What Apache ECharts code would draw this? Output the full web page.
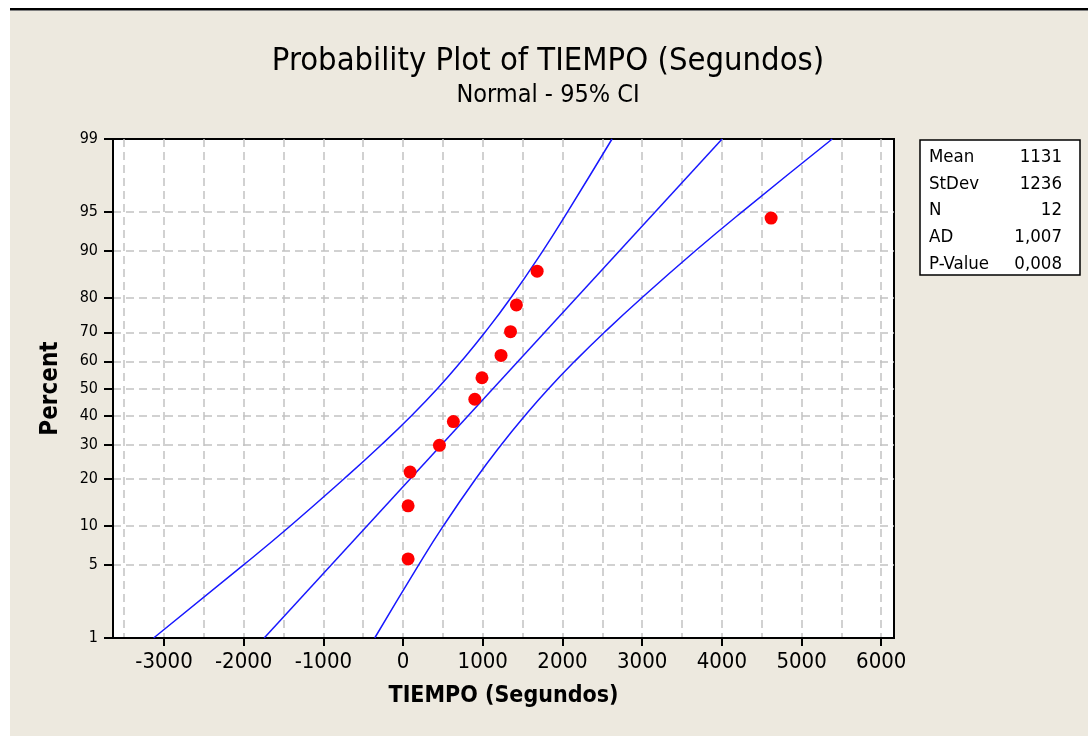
<!DOCTYPE html>
<html>
<head>
<meta charset="utf-8">
<script src="https://cdn.jsdelivr.net/npm/echarts@6/dist/echarts.min.js"></script>
<style>
html,body{margin:0;padding:0;background:#fff;}
#chart{width:1088px;height:736px;}
</style>
</head>
<body>
<div id="chart"></div>
<script>
// ---- data ----
const pointTimes = [63, 63, 88, 456, 631, 900, 990, 1229, 1348, 1422, 1682, 4618];
const pointPercents = [5.6, 13.7, 21.8, 29.8, 37.9, 46.0, 54.0, 62.1, 70.2, 78.2, 86.3, 94.4];

const bandPercents = [1, 5, 10, 20, 30, 40, 50, 60, 70, 80, 90, 95, 99];
const lowerBand = [-3130, -2002, -1416, -740, -272, 105, 432, 730, 1028, 1348, 1752, 2062, 2622];
const upperBand = [-356, 196, 505, 912, 1232, 1529, 1828, 2154, 2527, 2990, 3665, 4250, 5385];

const fitPercents = [1, 99];
const fitTimes = [-1743, 4003];

const yTickPercents = [1, 5, 10, 20, 30, 40, 50, 60, 70, 80, 90, 95, 99];
const yGridPercents = [5, 10, 20, 30, 40, 50, 60, 70, 80, 90, 95];
const xTickValues = [-3000, -2000, -1000, 0, 1000, 2000, 3000, 4000, 5000, 6000];
const xGridValues = [-3500, -3000, -2500, -2000, -1500, -1000, -500, 0, 500, 1000, 1500, 2000, 2500, 3000, 3500, 4000, 4500, 5000, 5500, 6000];

const titleText = 'Probability Plot of TIEMPO (Segundos)';
const subtitleText = 'Normal - 95% CI';
const statLabels = ['Mean', 'StDev', 'N', 'AD', 'P-Value'];
const statValues = ['1131', '1236', '12', '1,007', '0,008'];

// ---- normal probability scale transform (percent -> z) ----
function probit(p) {
  const a=[-3.969683028665376e+01,2.209460984245205e+02,-2.759285104469687e+02,1.383577518672690e+02,-3.066479806614716e+01,2.506628277459239e+00];
  const b=[-5.447609879822406e+01,1.615858368580409e+02,-1.556989798598866e+02,6.680131188771972e+01,-1.328068155288572e+01];
  const c=[-7.784894002430293e-03,-3.223964580411365e-01,-2.400758277161838e+00,-2.549671010229127e+00,4.374664141464968e+00,2.938163982698783e+00];
  const d=[7.784695709041462e-03,3.224671290700398e-01,2.445134137142996e+00,3.754408661907416e+00];
  const pl=0.02425, ph=1-pl; let q, r;
  if (p < pl) { q=Math.sqrt(-2*Math.log(p)); return (((((c[0]*q+c[1])*q+c[2])*q+c[3])*q+c[4])*q+c[5])/((((d[0]*q+d[1])*q+d[2])*q+d[3])*q+1); }
  if (p <= ph) { q=p-0.5; r=q*q; return (((((a[0]*r+a[1])*r+a[2])*r+a[3])*r+a[4])*r+a[5])*q/(((((b[0]*r+b[1])*r+b[2])*r+b[3])*r+b[4])*r+1); }
  q=Math.sqrt(-2*Math.log(1-p)); return -(((((c[0]*q+c[1])*q+c[2])*q+c[3])*q+c[4])*q+c[5])/((((d[0]*q+d[1])*q+d[2])*q+d[3])*q+1);
}
const z = pc => probit(pc / 100);
const yTickZ = yTickPercents.map(z);
const yGridZ = yGridPercents.map(z);
const yMin = z(1), yMax = z(99);

const FONT = "'DejaVu Sans Condensed','DejaVu Sans',sans-serif";
const gridStyle = { color: '#C2C2C2', width: 1.5, type: [8, 5] };
const BLUE = '#1818FF';

const chart = echarts.init(document.getElementById('chart'), null, { renderer: 'canvas' });

const statTexts = [];
statLabels.forEach((s, i) => {
  statTexts.push({ type: 'text', x: 929, y: 157 + i * 26.7, style: { text: s, font: "18.5px " + FONT, fill: '#000', textAlign: 'left', textVerticalAlign: 'middle' } });
  statTexts.push({ type: 'text', x: 1062, y: 157 + i * 26.7, style: { text: statValues[i], font: "18.5px " + FONT, fill: '#000', textAlign: 'right', textVerticalAlign: 'middle' } });
});

chart.setOption({
  backgroundColor: '#EDE9DF',
  animation: false,
  grid: { left: 113, top: 139, right: 194, bottom: 98, show: true, backgroundColor: '#ffffff', borderColor: '#000', borderWidth: 2, containLabel: false },
  xAxis: [
    {
      type: 'value', min: -3640, max: 6160, position: 'bottom',
      axisLine: { show: true, onZero: false, lineStyle: { color: '#000', width: 2 } },
      axisTick: { show: true, inside: false, length: 8, customValues: xTickValues, lineStyle: { color: '#000', width: 2 } },
      axisLabel: { show: true, customValues: xTickValues, margin: 13, color: '#000', fontSize: 22, fontFamily: FONT, formatter: v => String(v) },
      splitLine: { show: false },
      name: 'TIEMPO (Segundos)', nameLocation: 'middle', nameGap: 47,
      nameTextStyle: { color: '#000', fontSize: 23, fontWeight: 'bold', fontFamily: FONT }
    },
    {
      type: 'value', min: -3640, max: 6160, position: 'bottom',
      axisLine: { show: false, onZero: false },
      axisTick: { show: false, customValues: xGridValues },
      axisLabel: { show: false },
      splitLine: { show: true, lineStyle: gridStyle }
    }
  ],
  yAxis: [
    {
      type: 'value', min: yMin, max: yMax,
      axisLine: { show: true, onZero: false, lineStyle: { color: '#000', width: 2 } },
      axisTick: { show: true, inside: false, length: 9, customValues: yTickZ, lineStyle: { color: '#000', width: 2 } },
      axisLabel: {
        show: true, customValues: yTickZ, margin: 15, color: '#000', fontSize: 16, fontFamily: FONT,
        formatter: v => { let best = 0; yTickZ.forEach((t, i) => { if (Math.abs(t - v) < Math.abs(yTickZ[best] - v)) best = i; }); return String(yTickPercents[best]); }
      },
      splitLine: { show: false },
      name: 'Percent', nameLocation: 'middle', nameGap: 50, nameRotate: 90,
      nameTextStyle: { color: '#000', fontSize: 24, fontWeight: 'bold', fontFamily: FONT }
    },
    {
      type: 'value', min: yMin, max: yMax, position: 'left',
      axisLine: { show: false, onZero: false },
      axisTick: { show: false, customValues: yGridZ },
      axisLabel: { show: false },
      splitLine: { show: true, lineStyle: gridStyle }
    }
  ],
  graphic: [
    { type: 'rect', shape: { x: 0, y: 0, width: 1088, height: 8 }, style: { fill: '#fff' }, silent: true },
    { type: 'rect', shape: { x: 0, y: 0, width: 10, height: 736 }, style: { fill: '#fff' }, silent: true },
    { type: 'rect', shape: { x: 10, y: 8, width: 1078, height: 2 }, style: { fill: '#000' }, silent: true },
    { type: 'rect', shape: { x: 10, y: 10, width: 1078, height: 1 }, style: { fill: '#808080' }, silent: true },
    { type: 'text', x: 548, y: 62, style: { text: titleText, font: "32.5px " + FONT, fill: '#000', textAlign: 'center', textVerticalAlign: 'middle' }, silent: true },
    { type: 'text', x: 548, y: 95, style: { text: subtitleText, font: "25px " + FONT, fill: '#000', textAlign: 'center', textVerticalAlign: 'middle' }, silent: true },
    { type: 'rect', shape: { x: 920, y: 140, width: 160, height: 135 }, style: { fill: '#fff', stroke: '#000', lineWidth: 1.5 }, silent: true }
  ].concat(statTexts),
  series: [
    {
      type: 'line', xAxisIndex: 0, yAxisIndex: 0, name: 'lower', showSymbol: false, symbol: 'none', smooth: 0.5,
      lineStyle: { color: BLUE, width: 1.5 },
      data: lowerBand.map((v, i) => [v, z(bandPercents[i])]), z: 3
    },
    {
      type: 'line', xAxisIndex: 0, yAxisIndex: 0, name: 'upper', showSymbol: false, symbol: 'none', smooth: 0.5,
      lineStyle: { color: BLUE, width: 1.5 },
      data: upperBand.map((v, i) => [v, z(bandPercents[i])]), z: 3
    },
    {
      type: 'line', xAxisIndex: 0, yAxisIndex: 0, name: 'fit', showSymbol: false, symbol: 'none',
      lineStyle: { color: BLUE, width: 1.5 },
      data: fitTimes.map((v, i) => [v, z(fitPercents[i])]), z: 3
    },
    {
      type: 'scatter', xAxisIndex: 0, yAxisIndex: 0, name: 'TIEMPO', symbol: 'circle', symbolSize: 13,
      itemStyle: { color: '#FF0000', opacity: 1 },
      data: pointTimes.map((v, i) => [v, z(pointPercents[i])]), z: 5
    }
  ]
});
</script>
</body>
</html>
